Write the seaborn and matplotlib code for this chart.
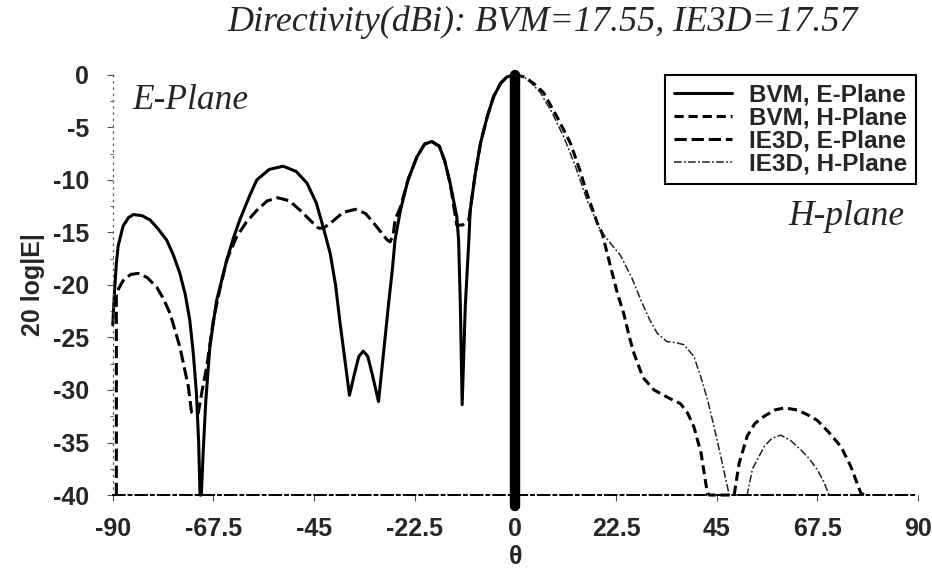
import numpy as np
import pandas as pd
import seaborn as sns
import matplotlib.pyplot as plt
from matplotlib.ticker import MultipleLocator

# BVM, E-Plane (solid, left half)
theta_bvm_e = [-90, -89.6, -89.2, -88.8, -87.7, -86.5, -85.4, -83.5, -81.7, -80, -78, -76.5,
               -75, -73.8, -72.8, -72, -71.3, -70.8, -70.5, -70.2, -69.8, -69.2, -68.3, -66.8,
               -64.5, -63, -61.6, -59.3, -57.8, -55, -51.9, -49, -46.6, -44.5, -42.9, -41.4,
               -40.2, -39.2, -38, -37.1, -36, -35, -34, -33, -32, -30.6, -29.6, -28.4, -27.5,
               -26.9, -25.7, -24, -22, -20.3, -18.7, -17, -15.8, -14.6, -13.1, -12.7, -12.3,
               -11.9, -11.2, -10.4, -10.1, -9, -7.8, -6.3, -4.9, -3.3, -1.9, 0]
db_bvm_e = [-23.8, -20.5, -18, -16.3, -14.4, -13.6, -13.3, -13.4, -13.8, -14.6, -15.7, -17.1,
            -18.9, -20.9, -23.3, -26.5, -30.3, -35, -40, -40, -36, -31, -25.9, -21.5,
            -17.6, -15.5, -13.8, -11.4, -10.0, -9.0, -8.7, -9.2, -10.3, -12.2, -14.6, -17,
            -20, -23.6, -27.5, -30.5, -28.5, -26.8, -26.3, -26.8, -28.5, -31.1, -27, -22, -18.5,
            -15.7, -12.9, -10, -7.8, -6.6, -6.35, -6.8, -8.2, -10.3, -13.5, -15.7, -22,
            -31.4, -22, -15.7, -12.9, -9.5, -6.5, -4, -2.1, -0.8, -0.2, 0]

# IE3D, E-Plane (dashed, left half)
theta_ie3d_e = [-89.2, -89.2, -88.5, -87.7, -86, -84.3, -82.3, -80.2, -78.7, -77.2, -75, -73.1,
                -72.4, -71.6, -70.9, -70, -69, -67.5, -66, -64.5, -62.3, -60.1, -57.8, -55.5,
                -53.1, -50.5, -48.1, -45.5, -44, -42.9, -41, -38.5, -35.8, -33.5, -31.7, -30,
                -28.7, -28, -27.3, -26.9, -25.7, -24, -22, -20.3, -18.7, -17, -15.8, -14.6,
                -13.1, -11.8, -10.4, -9, -7.8, -6.3, -4.9, -3.3, -1.9, 0]
db_ie3d_e = [-40, -20.8, -20.2, -19.6, -19.0, -18.9, -19.3, -20.2, -21.3, -22.7, -25.9, -29.7,
             -32.1, -32.3, -32.2, -30, -27.8, -23.3, -20.3, -17.6, -15.4, -14, -12.9, -12.0,
             -11.7, -12.0, -12.9, -14.0, -14.6, -14.6, -14.0, -13.1, -12.8, -13.2, -14.1, -15.0,
             -15.7, -15.9, -15.2, -13.8, -12.6, -10, -7.8, -6.6, -6.35, -6.8, -8.2, -10.3,
             -14.3, -14.3, -13.8, -9.5, -6.5, -4, -2.1, -0.8, -0.2, 0]

# BVM, H-Plane (short dashes, right half)
theta_bvm_h = [0, 2, 4, 6.3, 9.3, 12.3, 14.5, 16, 18.3, 19.4, 21.3, 22.8, 24.2, 25.5, 26.5,
               28.5, 31, 34, 36.9, 38.5, 39.9, 41.5, 42.9, 43.4, 48.9, 50, 51.8, 53.5, 55.6,
               58, 60.1, 63, 65.5, 67.5, 70, 72.8, 75, 77.2, 78]
db_bvm_h = [0, -0.2, -0.8, -1.7, -4, -6.5, -9.2, -11.3, -14.1, -15.1, -18.3, -20.8, -22.7, -25,
            -26.5, -28.8, -30, -30.7, -31.3, -32.2, -33.5, -36, -39.8, -40, -40, -37, -34.4,
            -33.2, -32.5, -31.9, -31.7, -31.9, -32.4, -32.9, -34, -35.4, -37.3, -39.8, -40]

# IE3D, H-Plane (thin dash-dot, right half)
theta_ie3d_h = [0, 2, 3.8, 5.6, 8.2, 10.8, 13.5, 16, 19, 21, 23.5, 26, 28, 30, 31.7, 33.9, 36,
                37.7, 39.9, 41.4, 43, 44.4, 46, 47.8, 51.8, 53, 55.6, 57.3, 59.3, 61.5, 63.8,
                65.8, 67.5, 69, 70.1]
db_ie3d_h = [0, -0.2, -0.9, -1.7, -3.6, -5.9, -8.8, -11.9, -14.8, -15.9, -17.2, -19.3, -21.4,
             -23.3, -24.6, -25.4, -25.5, -25.7, -26.8, -28.7, -31, -33.5, -36.5, -40, -40,
             -37.5, -35.4, -34.6, -34.3, -34.8, -35.7, -36.6, -37.6, -38.8, -40]

series = [
    ("BVM, E-Plane", theta_bvm_e, db_bvm_e, dict(color="black", lw=2.2, linestyle="-")),
    ("BVM, H-Plane", theta_bvm_h, db_bvm_h, dict(color="black", lw=2.2, linestyle=(0, (3, 1.6)))),
    ("IE3D, E-Plane", theta_ie3d_e, db_ie3d_e, dict(color="black", lw=2.2, linestyle=(0, (4, 1.6)))),
    ("IE3D, H-Plane", theta_ie3d_h, db_ie3d_h, dict(color="#222222", lw=1.1, linestyle=(0, (5, 1.5, 1.2, 1.5)))),
]

sns.set_theme(style="white")
plt.rcParams['font.family'] = ['Liberation Sans', 'DejaVu Sans']
plt.rcParams['axes.unicode_minus'] = False
serif = ["Liberation Serif", "DejaVu Serif"]

fig = plt.figure(figsize=(9.32, 5.71), dpi=100)
ax = fig.add_axes([0.121, 0.133, 0.864, 0.736])

for name, th, db, kw in series:
    df = pd.DataFrame({"theta": th, "dB": db})
    sns.lineplot(data=df, x="theta", y="dB", estimator=None, sort=False, ax=ax,
                 label=name, clip_on=False, **kw)

# main beam marker
ax.axvline(0, color="black", lw=7.5, ymin=-0.025, ymax=1.0, clip_on=False, zorder=5)

ax.set_xlim(-90, 90)
ax.set_ylim(-40, 0)
ax.set_xticks([-90, -67.5, -45, -22.5, 0, 22.5, 45, 67.5, 90])
ax.set_xticklabels(["-90", "-67.5", "-45", "-22.5", "0", "22.5", "45", "67.5", "90"])
ax.yaxis.set_major_locator(MultipleLocator(5))
ax.yaxis.set_minor_locator(MultipleLocator(2.5))
ax.tick_params(axis="both", which="major", labelsize=18, length=4, width=0.8, color="0.3",
               direction="out", left=True, bottom=True)
ax.tick_params(axis="y", which="major", pad=13)
ax.tick_params(axis="x", which="major", pad=12)
ax.tick_params(axis="y", which="minor", length=2, width=0.8, color="0.4", left=True)
for lab in ax.get_xticklabels() + ax.get_yticklabels():
    lab.set_fontweight("bold")

for s in ["top", "right"]:
    ax.spines[s].set_visible(False)
ax.spines["left"].set_linestyle((0, (1, 4)))
ax.spines["left"].set_color("0.35")
ax.spines["left"].set_linewidth(0.9)
ax.spines["bottom"].set_linestyle((0, (6, 2, 1.5, 2)))
ax.spines["bottom"].set_color("black")
ax.spines["bottom"].set_linewidth(1.4)

ax.set_xlabel("θ", fontsize=18, fontweight="bold", labelpad=3)
ax.set_ylabel("20 log|E|", fontsize=18, fontweight="bold", labelpad=6)

fig.suptitle("Directivity(dBi): BVM=17.55, IE3D=17.57", x=0.582, y=0.99,
             fontsize=26, fontstyle="italic", family=serif)
ax.text(-85.5, -2.4, "E-Plane", fontsize=25.5, fontstyle="italic", ha="left", va="center",
        family=serif)
ax.text(86.9, -13.5, "H-plane", fontsize=25.5, fontstyle="italic", ha="right", va="center",
        family=serif)

leg = ax.legend(loc="upper right", bbox_to_anchor=(0.9975, 1.0),
                prop={"weight": "bold", "size": 17.5}, frameon=True, fancybox=False,
                edgecolor="black", framealpha=1, borderaxespad=0, handlelength=2.4,
                handletextpad=0.7, labelspacing=0.0, borderpad=0.35)
leg.get_frame().set_linewidth(1.5)

fig.savefig("out.png", dpi=100)
